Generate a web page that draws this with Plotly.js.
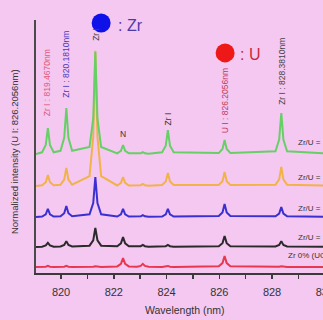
<!DOCTYPE html>
<html><head><meta charset="utf-8">
<script src="https://cdn.plot.ly/plotly-3.0.1.min.js"></script>
<style>html,body{margin:0;padding:0;overflow:hidden;background:#f4c8f1;width:323px;height:320px}</style>
</head><body><div id="c"></div>
<script>
// shared wavelength grid (nm)
const wavelength = [819.05,
 819.28, 819.42, 819.5, 819.58, 819.72,
 819.98, 820.12, 820.2, 820.28, 820.42,
 821.08, 821.22, 821.3, 821.38, 821.52,
 822.13, 822.27, 822.35, 822.43, 822.57,
 822.88, 823.02, 823.1, 823.18, 823.32,
 823.83, 823.97, 824.05, 824.13, 824.27,
 825.98, 826.12, 826.2, 826.28, 826.42,
 828.13, 828.27, 828.35, 828.43, 828.57,
 830.5];
// normalized intensities (stacked with offsets)
const zr0 = [0.24,
 0.24,0.25,0.28,0.25,0.24,
 0.24,0.25,0.28,0.25,0.24,
 0.24,0.25,0.27,0.25,0.24,
 0.26,0.36,0.59,0.36,0.26,
 0.25,0.28,0.36,0.28,0.25,
 0.24,0.25,0.28,0.25,0.24,
 0.27,0.39,0.67,0.39,0.27,
 0.24,0.25,0.27,0.25,0.24,
 0.24];
const zrA = [1.03,
 1.04,1.09,1.19,1.09,1.04,
 1.05,1.11,1.26,1.11,1.05,
 1.08,1.29,1.78,1.29,1.08,
 1.06,1.17,1.42,1.17,1.06,
 1.04,1.06,1.11,1.06,1.04,
 1.04,1.06,1.11,1.06,1.04,
 1.06,1.18,1.46,1.18,1.06,
 1.05,1.11,1.26,1.11,1.05,
 1.03];
const zrB = [2.21,
 2.23,2.32,2.53,2.32,2.23,
 2.24,2.36,2.65,2.36,2.24,
 2.32,2.76,3.79,2.76,2.32,
 2.23,2.32,2.53,2.32,2.23,
 2.22,2.24,2.29,2.24,2.22,
 2.23,2.32,2.53,2.32,2.23,
 2.25,2.39,2.73,2.39,2.25,
 2.24,2.35,2.61,2.35,2.24,
 2.21];
const zrC = [3.44,
 3.47,3.59,3.87,3.59,3.47,
 3.49,3.69,4.15,3.69,3.49,
 3.83,5.38,8.78,5.38,3.83,
 3.46,3.56,3.79,3.56,3.46,
 3.45,3.47,3.52,3.47,3.45,
 3.48,3.62,3.95,3.62,3.48,
 3.48,3.63,3.99,3.63,3.48,
 3.49,3.70,4.19,3.70,3.49,
 3.44];
const zrD = [4.70,
 4.77,5.06,5.73,5.06,4.77,
 4.83,5.34,6.52,5.34,4.83,
 4.98,6.11,8.74,6.11,4.98,
 4.73,4.83,5.06,4.83,4.73,
 4.71,4.73,4.78,4.73,4.71,
 4.77,5.03,5.65,5.03,4.77,
 4.74,4.90,5.26,4.90,4.74,
 4.81,5.27,6.32,5.27,4.81,
 4.70];
const seriesLabels = ["Zr 0% (UO<sub>2</sub>)", "Zr/U =", "Zr/U =", "Zr/U =", "Zr/U ="];
const labelY = [0.67, 1.42, 2.53, 3.79, 5.14];
// peak line labels
const peakText = ["Zr I : 819.4670nm","Zr I : 820.1810nm","Zr I","N","Zr I","U I : 826.2056nm","Zr I : 828.3810nm"];
const peakX = [819.5, 820.2, 821.3, 822.35, 824.05, 826.2, 828.35];
const peakY = [6.13, 6.84, 9.09, 5.2, 5.77, 5.45, 6.56];

const F = "Liberation Sans Narrow, Liberation Sans, Arial";
const colors = ["#e8384f", "#2a2a2a", "#3a2fd0", "#f2b24a", "#66d066"];
const ys = [zr0, zrA, zrB, zrC, zrD];
const traces = ys.map((y,i)=>({x: wavelength, y: y, type:"scatter", mode:"lines",
  line:{color:colors[i], width:2}, hoverinfo:"skip", showlegend:false}));
// element markers
traces.push({x:[821.52, 826.22], y:[9.88, 8.70], type:"scatter", mode:"markers",
  marker:{size:19, color:["#1010e8","#ee1818"]}, cliponaxis:false, showlegend:false, hoverinfo:"skip"});

const ann = [];
seriesLabels.forEach((t,i)=>ann.push({x: i===0?828.53:828.9, y:labelY[i], xref:"x", yref:"y", text:t,
  showarrow:false, xanchor:"left", yanchor:"middle", font:{family:F, size:8, color:"#333"}}));
const peakColors = ["#e05a78","#4a3ab8","#444","#333","#333","#c03a5a","#444"];
peakText.forEach((t,i)=>ann.push({x:peakX[i], y:peakY[i], xref:"x", yref:"y", text:t,
  showarrow:false, textangle: t==="N"?0:-90, xanchor:"center", yanchor:"bottom",
  font:{family:F, size:8.5, color:peakColors[i]}}));
ann.push({x:822.1, y:9.8, xref:"x", yref:"y", text:": Zr", showarrow:false, xanchor:"left", yanchor:"middle",
  font:{family:"Liberation Sans, Arial", size:16, color:"#4f3aa8"}});
ann.push({x:826.72, y:8.62, xref:"x", yref:"y", text:": U", showarrow:false, xanchor:"left", yanchor:"middle",
  font:{family:"Liberation Sans, Arial", size:16, color:"#c8283c"}});
ann.push({x:-0.0728, y:0.478, xref:"paper", yref:"paper", text:"Normalized intensity (U I: 826.2056nm)",
  showarrow:false, textangle:-90, xanchor:"center", yanchor:"middle", font:{family:F, size:9.5, color:"#333"}});
ann.push({x:0.493, y:-0.146, xref:"paper", yref:"paper", text:"Wavelength (nm)",
  showarrow:false, xanchor:"center", yanchor:"middle", font:{family:F, size:10.5, color:"#333"}});

const layout = {
  width:343, height:320, margin:{l:36, r:5, t:20, b:47},
  paper_bgcolor:"#f4c8f1", plot_bgcolor:"#f4c8f1",
  xaxis:{range:[819.05, 830.5], showgrid:false, zeroline:false, showline:true, linecolor:"#3a3a3a", linewidth:2,
    ticks:"outside", ticklen:4, tickwidth:1.5, tickcolor:"#3a3a3a", tick0:820, dtick:2, tickmode:"linear",
    ticklabelstandoff:4,
    minor:{dtick:1, tick0:820, ticks:"outside", ticklen:4, tickwidth:1.5, tickcolor:"#3a3a3a", showgrid:false},
    tickfont:{family:F, size:11, color:"#333"}},
  yaxis:{range:[0,10], showgrid:false, zeroline:false, showline:true, linecolor:"#4a4a4a", linewidth:2,
    showticklabels:false, ticks:""},
  annotations: ann
};
Plotly.newPlot("c", traces, layout, {staticPlot:true, displayModeBar:false});
</script></body></html>
